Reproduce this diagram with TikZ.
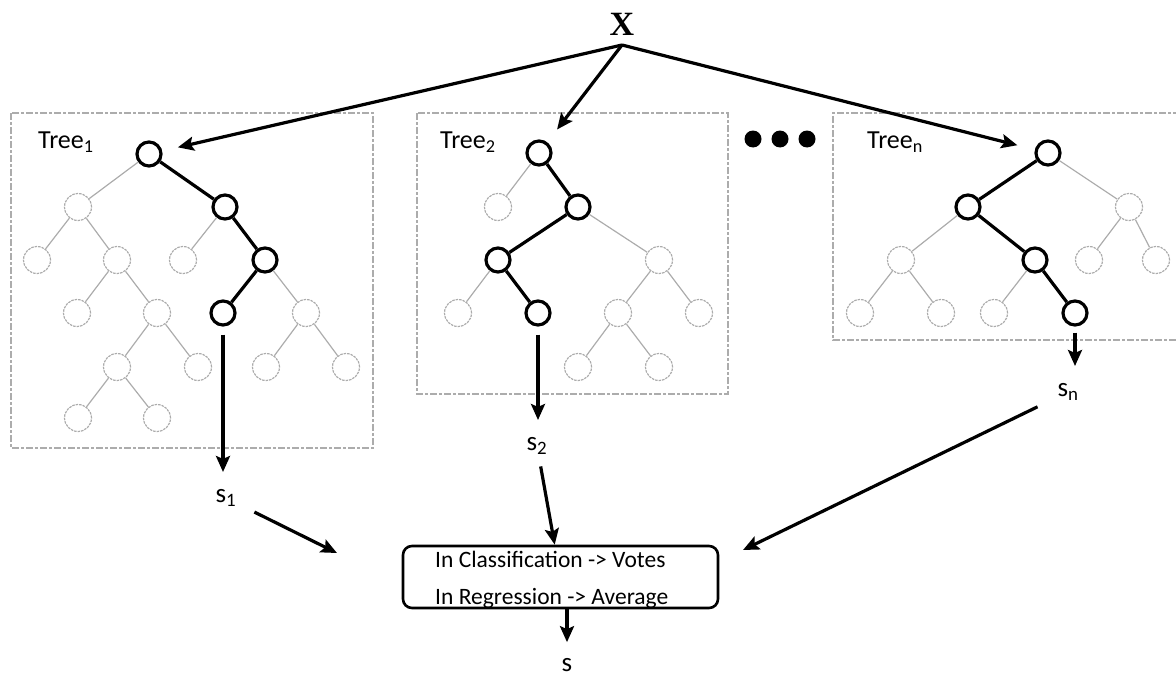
\documentclass[tikz,border=0pt]{standalone}
\usepackage{fontspec}
\setmainfont{Carlito}
\newfontfamily\xfont{Liberation Serif}
\usetikzlibrary{arrows.meta}
\begin{document}
\begin{tikzpicture}[x=1pt,y=-1pt,
  bnode/.style={circle,draw=black,line width=3.2pt,minimum size=24pt,inner sep=0pt},
  tnode/.style={circle,draw=gray!65,line width=1.2pt,dash pattern=on 2.5pt off 1pt,minimum size=27pt,inner sep=0pt},
  bedge/.style={draw=black,line width=3.2pt},
  tedge/.style={draw=gray!65,line width=1.2pt},
  frame/.style={draw=gray!65,line width=1.2pt,dash pattern=on 7pt off 2pt on 3pt off 2pt},
  arr/.style={draw=black,line width=3.2pt,-{Stealth[length=16pt,width=14pt,inset=3pt]}},
  lbl/.style={font=\fontsize{26}{30}\selectfont,inner sep=0pt},
  slbl/.style={font=\fontsize{27}{30}\selectfont,inner sep=0pt},
  boxtxt/.style={font=\fontsize{23.5}{27}\selectfont,inner sep=0pt,anchor=base west},
  dot/.style={circle,fill=black,minimum size=17pt,inner sep=0pt}
]
\useasboundingbox (0,0) rectangle (1176,677);

% frames
\draw[frame] (11,113) rectangle (373,448);
\draw[frame] (417,113) rectangle (728,394);
\draw[frame] (1180,113) -- (833,113) -- (833,340) -- (1180,340);

% X
\node[font=\fontsize{34}{36}\xfont\bfseries,inner sep=0pt] (X) at (622,24) {X};
\coordinate (apex) at (622,45);

% dots
\node[dot] (d1) at (753,139) {};
\node[dot] (d2) at (780,139) {};
\node[dot] (d3) at (807,139) {};

% labels
\node[lbl,anchor=west] (T1) at (38,142) {Tree\textsubscript{1}};
\node[lbl,anchor=west] (T2) at (440,142) {Tree\textsubscript{2}};
\node[lbl,anchor=west] (Tn) at (867,142) {Tree\textsubscript{n}};

% Tree 1
\node[bnode] (a1) at (149,154) {};
\node[tnode] (b1) at (78,207) {};
\node[bnode] (c1) at (225,207) {};
\node[tnode] (d1n) at (37,260) {};
\node[tnode] (e1) at (117,260) {};
\node[tnode] (f1) at (183,260) {};
\node[bnode] (g1) at (265,260) {};
\node[tnode] (h1) at (77,313) {};
\node[tnode] (i1) at (157,313) {};
\node[bnode] (j1) at (223,313) {};
\node[tnode] (k1) at (306,313) {};
\node[tnode] (l1) at (117,367) {};
\node[tnode] (m1) at (198,367) {};
\node[tnode] (n1) at (266,367) {};
\node[tnode] (o1) at (346,367) {};
\node[tnode] (p1) at (78,418) {};
\node[tnode] (q1) at (157,418) {};
\draw[tedge] (a1)--(b1) (b1)--(d1n) (b1)--(e1) (c1)--(f1) (e1)--(h1) (e1)--(i1)
  (g1)--(k1) (i1)--(l1) (i1)--(m1) (k1)--(n1) (k1)--(o1) (l1)--(p1) (l1)--(q1);
\draw[bedge] (a1)--(c1) (c1)--(g1) (g1)--(j1);

% Tree 2
\node[bnode] (a2) at (539,153) {};
\node[tnode] (b2) at (498,207) {};
\node[bnode] (c2) at (578,207) {};
\node[bnode] (d2n) at (498,260) {};
\node[tnode] (e2) at (659,260) {};
\node[tnode] (f2) at (458,313) {};
\node[bnode] (g2) at (538,313) {};
\node[tnode] (h2) at (618,313) {};
\node[tnode] (i2) at (699,313) {};
\node[tnode] (j2) at (578,367) {};
\node[tnode] (k2) at (659,367) {};
\draw[tedge] (a2)--(b2) (c2)--(e2) (d2n)--(f2) (e2)--(h2) (e2)--(i2) (h2)--(j2) (h2)--(k2);
\draw[bedge] (a2)--(c2) (c2)--(d2n) (d2n)--(g2);

% Tree n
\node[bnode] (an) at (1048,153) {};
\node[bnode] (bn) at (968,207) {};
\node[tnode] (cn) at (1129,207) {};
\node[tnode] (dn) at (901,260) {};
\node[bnode] (en) at (1035,260) {};
\node[tnode] (fn) at (1089,260) {};
\node[tnode] (gn) at (1156,260) {};
\node[tnode] (hn) at (860,313) {};
\node[tnode] (in) at (941,313) {};
\node[tnode] (jn) at (994,313) {};
\node[bnode] (kn) at (1075,313) {};
\draw[tedge] (an)--(cn) (bn)--(dn) (cn)--(fn) (cn)--(gn) (dn)--(hn) (dn)--(in) (en)--(jn);
\draw[bedge] (an)--(bn) (bn)--(en) (en)--(kn);

% arrows from X
\draw[arr,shorten >=16pt] (apex) -- (a1);
\draw[arr,shorten >=16pt] (apex) -- (a2);
\draw[arr,shorten >=18pt] (apex) -- (an);

% outputs
\node[slbl] (s1) at (226,498) {s\textsubscript{1}};
\node[slbl] (s2) at (537,446) {s\textsubscript{2}};
\node[slbl] (sn) at (1068,392) {s\textsubscript{n}};
\draw[arr,shorten <=8pt,shorten >=26pt] (j1) -- (j1 |- s1);
\draw[arr,shorten <=8pt,shorten >=26pt] (g2) -- (g2 |- s2);
\draw[arr,shorten <=6pt,shorten >=26pt] (kn) -- (kn |- sn);

% combiner box
\node[draw=black,line width=2.6pt,rounded corners=9pt,minimum width=315pt,minimum height=62pt,inner sep=0pt] (box) at (560.5,577) {};
\node[boxtxt] (l1t) at (435,567) {In Classification -> Votes};
\node[boxtxt] (l2t) at (435,604) {In Regression -> Average};

\coordinate (c1end) at (337,553);
\coordinate (cnend) at (743,550);
\draw[arr,shorten <=20pt] (s1) -- (c1end);
\draw[arr,shorten <=12pt] (s2) -- (box);
\draw[arr,shorten <=22pt] (sn) -- (cnend);

\node[slbl] (s) at (567,665) {s};
\draw[arr,shorten >=16pt] (box.south -| s) -- (s);
\end{tikzpicture}
\end{document}
